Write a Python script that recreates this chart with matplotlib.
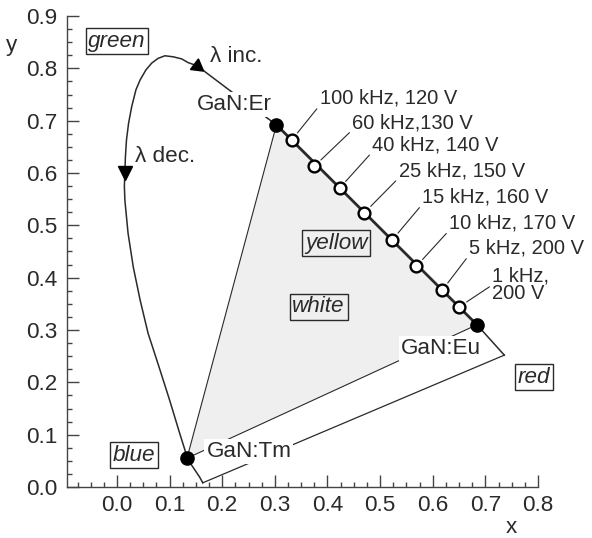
import matplotlib
matplotlib.use('Agg')
import matplotlib.pyplot as plt
from matplotlib.ticker import MultipleLocator, FormatStrFormatter

plt.rcParams['font.family'] = ['Liberation Sans', 'DejaVu Sans']

INK = '#2a2a2a'
FONT = 14.5      # operating-point labels
BIG = 16.2       # emitter / region labels and ticks

# spectral locus traced from the purple end, up the blue side, over the
# green peak and down to the red corner
LOCUS_X = [0.163, 0.157, 0.133, 0.129, 0.119, 0.100, 0.080, 0.059, 0.044,
           0.031, 0.021, 0.015, 0.014, 0.015, 0.016, 0.018, 0.022, 0.028,
           0.036, 0.044, 0.055, 0.066, 0.078, 0.091, 0.107, 0.123, 0.135,
           0.152, 0.214, 0.303, 0.684, 0.736]
LOCUS_Y = [0.008, 0.019, 0.055, 0.071, 0.103, 0.166, 0.229, 0.294, 0.357,
           0.420, 0.485, 0.548, 0.575, 0.600, 0.631, 0.663, 0.695, 0.727,
           0.759, 0.778, 0.797, 0.810, 0.819, 0.824, 0.822, 0.818, 0.811,
           0.805, 0.758, 0.692, 0.310, 0.252]
DEC_IDX = 13   # wavelength-decreasing arrow
INC_IDX = 27   # wavelength-increasing arrow

# single-dopant emitters
EMITTERS = ['GaN:Er', 'GaN:Tm', 'GaN:Eu']
EMITTER_X = [0.303, 0.133, 0.684]
EMITTER_Y = [0.692, 0.055, 0.310]

# Er/Eu device driven at different frequencies / voltages
DRIVE_LABELS = ['100 kHz, 120 V', '60 kHz,130 V', '40 kHz, 140 V',
                '25 kHz, 150 V', '15 kHz, 160 V', '10 kHz, 170 V',
                '5 kHz, 200 V', '1 kHz,\n200 V']
DRIVE_X = [0.332, 0.375, 0.423, 0.470, 0.523, 0.569, 0.618, 0.650]
DRIVE_Y = [0.663, 0.613, 0.571, 0.524, 0.472, 0.422, 0.376, 0.344]

REGIONS = ['green', 'yellow', 'white', 'blue', 'red']

fig = plt.figure(figsize=(5.92, 5.38), dpi=100)
ax = fig.add_axes([67 / 592, 51 / 538, 471 / 592, 471 / 538])

# gamut spanned by the three emitters
ax.fill(EMITTER_X, EMITTER_Y, facecolor='#efefef', edgecolor=INK, lw=0.8, zorder=1)

# horseshoe + line of purples
ax.plot(LOCUS_X, LOCUS_Y, color=INK, lw=1.1, zorder=2, solid_joinstyle='round')
ax.plot([LOCUS_X[-1], LOCUS_X[0]], [LOCUS_Y[-1], LOCUS_Y[0]], color=INK, lw=0.9, zorder=2)
ax.plot([EMITTER_X[0], EMITTER_X[2]], [EMITTER_Y[0], EMITTER_Y[2]], color=INK, lw=2.0, zorder=3)

ax.plot(LOCUS_X[DEC_IDX], LOCUS_Y[DEC_IDX], marker='v', ms=10, color='black', zorder=4)
ax.plot(LOCUS_X[INC_IDX], LOCUS_Y[INC_IDX], marker=(3, 0, -127), ms=11, color='black', zorder=4)
ax.text(0.034, 0.631, 'λ dec.', fontsize=BIG, color=INK, va='center', ha='left')
ax.text(0.176, 0.822, 'λ inc.', fontsize=BIG, color=INK, va='center', ha='left')

ax.plot(EMITTER_X, EMITTER_Y, 'o', ms=9.5, color='black', zorder=6)

white_box = dict(facecolor='white', edgecolor='none', pad=1.5)
emitter_text = [(0.222, 0.730, 'center'), (0.170, 0.067, 'left'), (0.616, 0.264, 'center')]
for name, (tx, ty, ha) in zip(EMITTERS, emitter_text):
    ax.text(tx, ty, name, fontsize=BIG, color=INK, ha=ha, va='center',
            bbox=white_box, zorder=5)

drive_text = [(0.385, 0.743), (0.447, 0.696), (0.485, 0.654), (0.535, 0.604),
              (0.580, 0.554), (0.631, 0.504), (0.669, 0.457), (0.713, 0.386)]
for lab, px, py, (tx, ty) in zip(DRIVE_LABELS, DRIVE_X, DRIVE_Y, drive_text):
    two_lines = '\n' in lab
    ax.annotate(lab, xy=(px, py), xytext=(tx, ty), fontsize=FONT, color=INK,
                ha='left', va='center', linespacing=0.92, zorder=5,
                arrowprops=dict(arrowstyle='-', color=INK, lw=0.8, shrinkA=0, shrinkB=6.5,
                                relpos=(0.0, 0.5 if two_lines else 0.12)))
ax.plot(DRIVE_X, DRIVE_Y, 'o', ms=8.5, mfc='white', mec='black', mew=1.7, zorder=6)

region_pos = [(0.0, 0.852), (0.417, 0.466), (0.383, 0.344), (0.032, 0.061), (0.792, 0.210)]
for name, (tx, ty) in zip(REGIONS, region_pos):
    ax.text(tx, ty, name, fontsize=BIG, style='italic', color=INK, ha='center', va='center',
            bbox=dict(facecolor='none', edgecolor=INK, lw=1.0, pad=2.0), zorder=5)

ax.set_xlim(-0.095, 0.8)
ax.set_ylim(0, 0.9)
ax.set_xticks([0.0, 0.1, 0.2, 0.3, 0.4, 0.5, 0.6, 0.7, 0.8])
ax.set_yticks([0.0, 0.1, 0.2, 0.3, 0.4, 0.5, 0.6, 0.7, 0.8, 0.9])
ax.xaxis.set_minor_locator(MultipleLocator(0.025))
ax.yaxis.set_minor_locator(MultipleLocator(0.025))
ax.xaxis.set_major_formatter(FormatStrFormatter('%.1f'))
ax.yaxis.set_major_formatter(FormatStrFormatter('%.1f'))
ax.tick_params(which='both', direction='in', color='#444444', width=1.0,
               labelsize=BIG, labelcolor=INK)
ax.tick_params(which='major', length=8.5)
ax.tick_params(axis='y', which='major', pad=7)
ax.tick_params(axis='x', which='major', pad=6)
ax.tick_params(which='minor', length=3.5)
for side in ('top', 'right'):
    ax.spines[side].set_visible(False)
for side in ('left', 'bottom'):
    ax.spines[side].set_color('#444444')
    ax.spines[side].set_linewidth(1.0)

ax.text(-0.117, 0.938, 'y', transform=ax.transAxes, fontsize=BIG, color=INK,
        ha='center', va='center')
ax.text(0.943, -0.085, 'x', transform=ax.transAxes, fontsize=BIG, color=INK,
        ha='center', va='center')

fig.savefig('out.png', dpi=100, facecolor='white')
